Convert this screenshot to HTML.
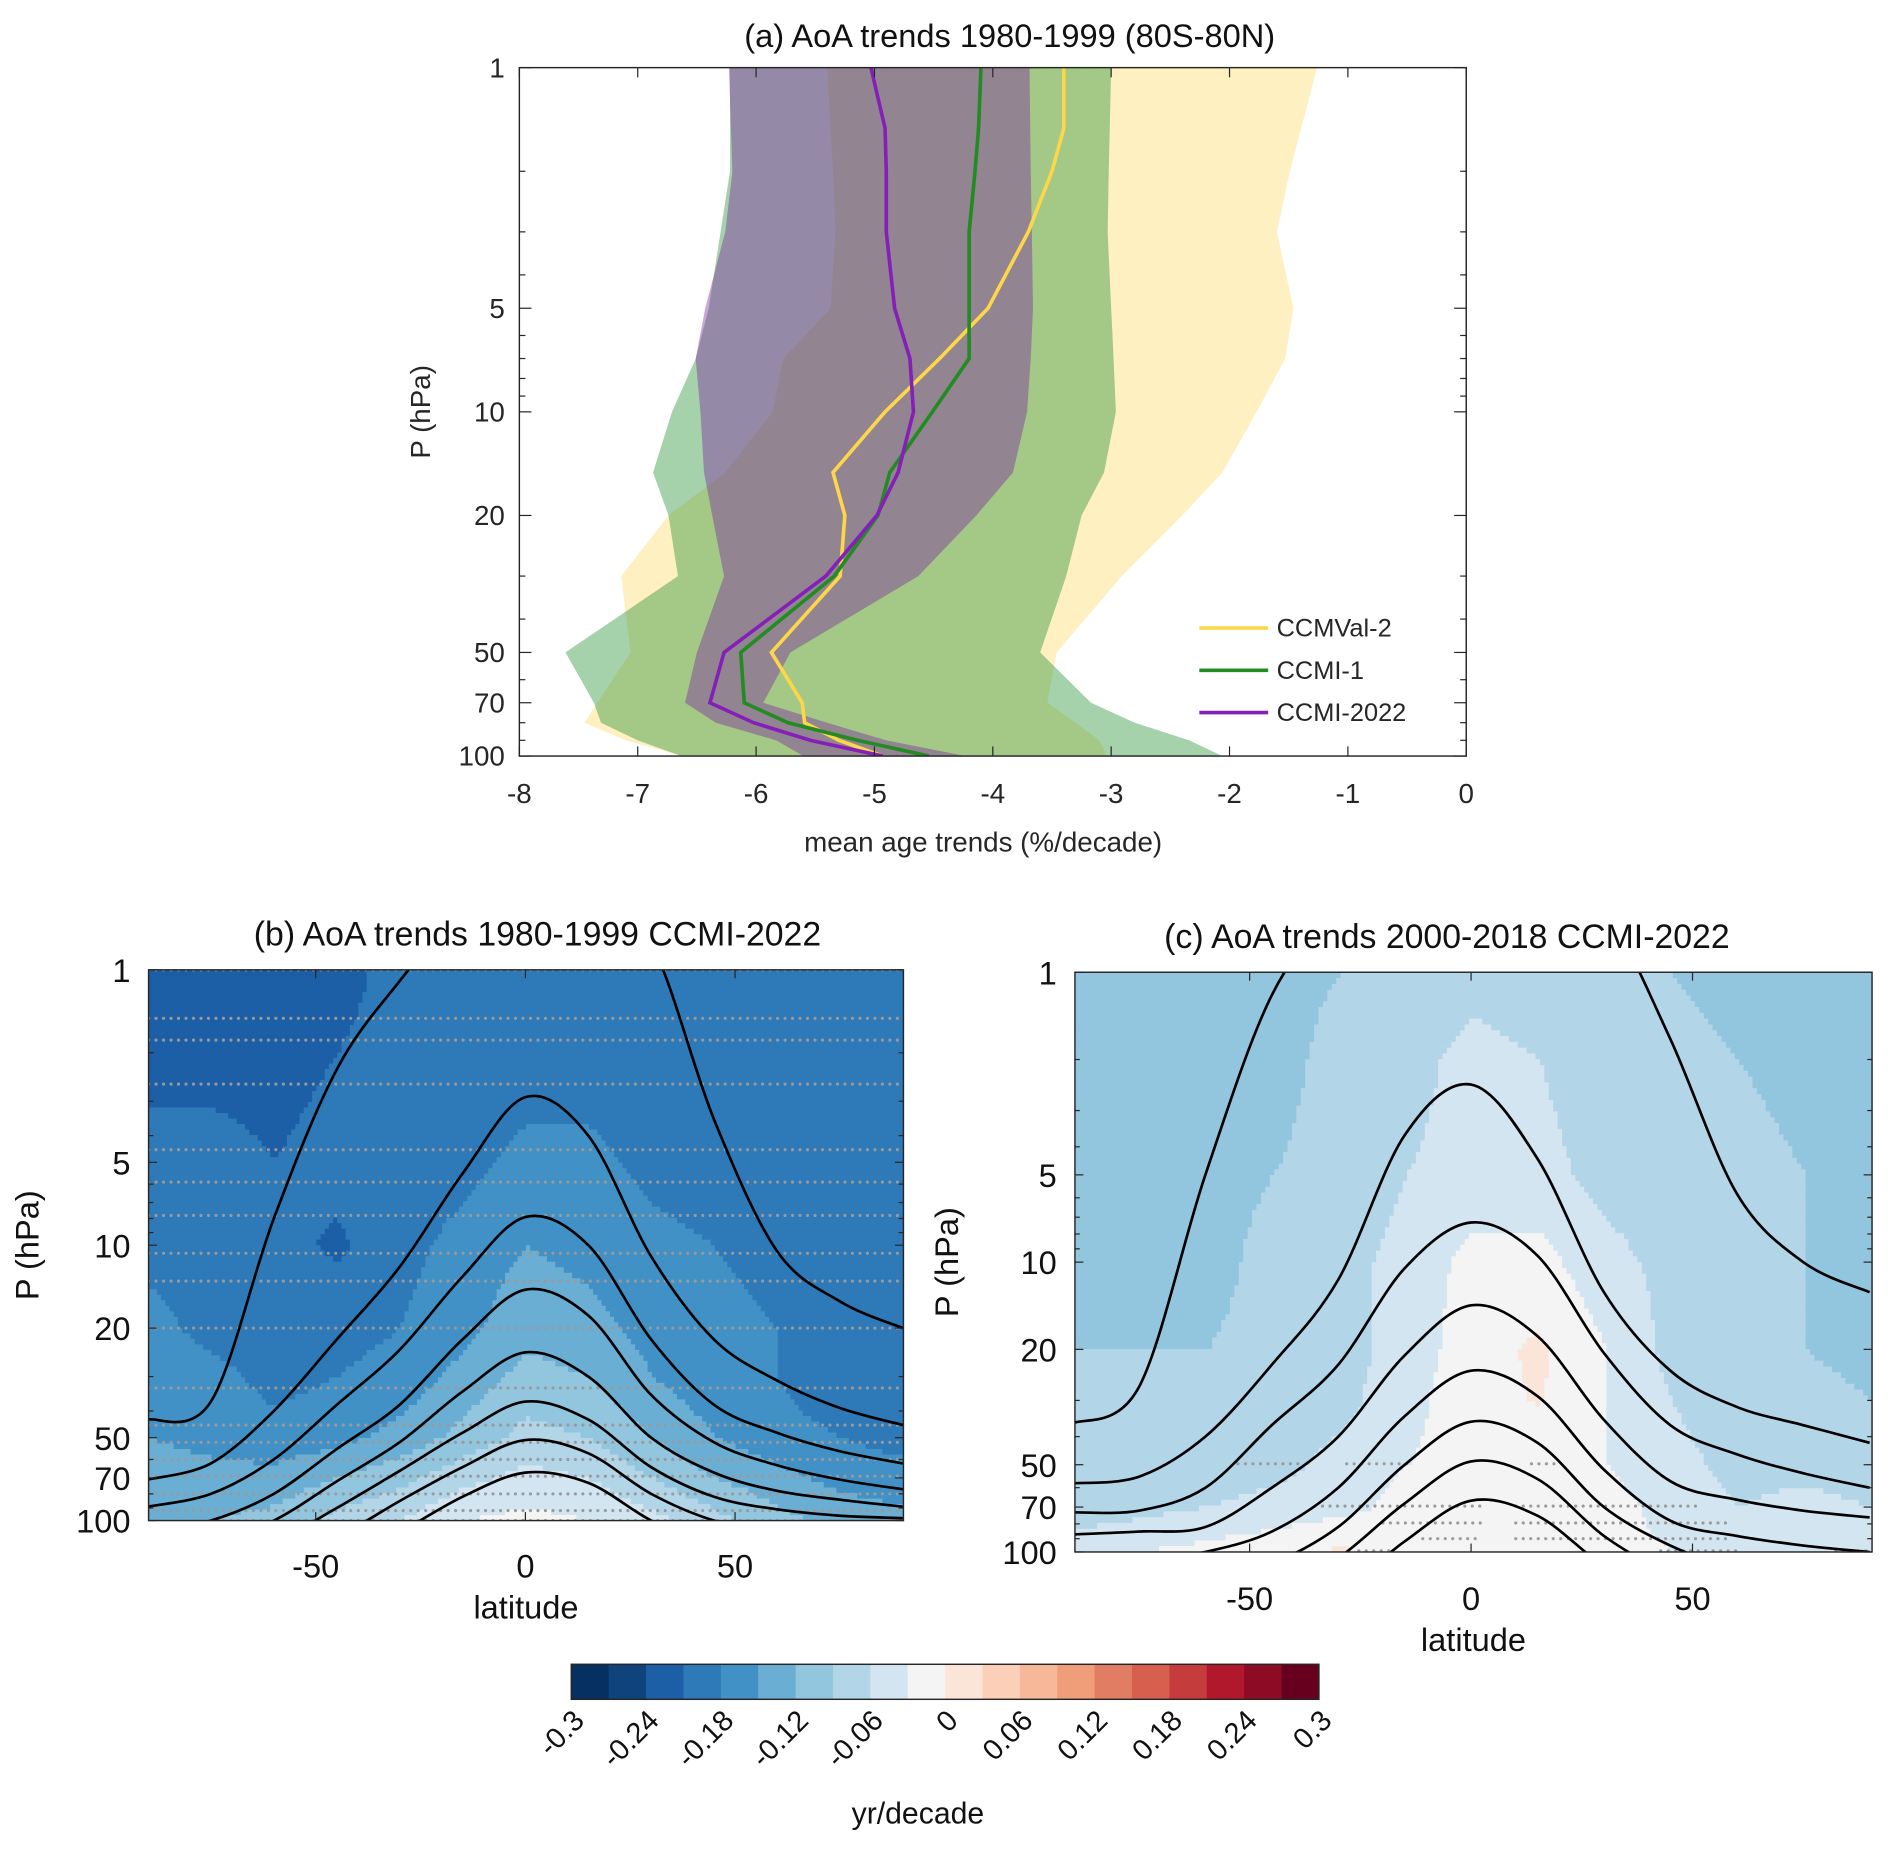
<!DOCTYPE html>
<html><head><meta charset="utf-8"><style>
html,body{margin:0;padding:0;background:#fff;}
svg{display:block;font-family:"Liberation Sans","DejaVu Sans",sans-serif;}
</style></head><body>
<svg id="fig" xmlns="http://www.w3.org/2000/svg" width="1892" height="1855" viewBox="0 0 1566.5 1535.9">
<rect x="0" y="0" width="1566.5" height="1535.9" fill="#fff"/>
<defs>
<clipPath id="clipA"><rect x="430" y="56" width="784" height="570"/></clipPath>
<clipPath id="clipB"><rect x="123" y="803" width="625" height="456"/></clipPath>
<clipPath id="clipC"><rect x="890" y="805" width="660" height="480"/></clipPath>
</defs>
<g id="panelA"></g>
<g id="panelB"></g>
<g id="panelC"></g>
<g id="cbar"></g>
</svg>
<script>
// ---------- Panel (a) data ----------
const LINE_P = [1,1.5,2,3,5,7,10,15,20,30,50,70,80,90,100];
const ccmval2 = [-3.4,-3.4,-3.5,-3.7,-4.04,-4.45,-4.91,-5.35,-5.25,-5.29,-5.87,-5.61,-5.59,-5.3,-4.93];
const ccmi1 = [-4.1,-4.12,-4.15,-4.2,-4.2,-4.2,-4.51,-4.87,-4.97,-5.34,-6.13,-6.1,-5.73,-5.14,-4.54];
const ccmi2022 = [-5.03,-4.91,-4.9,-4.9,-4.83,-4.7,-4.67,-4.8,-4.98,-5.41,-6.27,-6.39,-6.02,-5.54,-4.93];
const BAND_P = [1,2,3,5,7,10,15,20,30,50,70,80,90,100];
const yellowLo = [-5.4,-5.35,-5.33,-5.37,-5.77,-5.86,-6.26,-6.74,-7.14,-7.06,-7.34,-7.45,-7.1,-6.63];
const yellowHi = [-1.26,-1.49,-1.6,-1.46,-1.53,-1.77,-2.06,-2.4,-2.91,-3.46,-3.54,-3.3,-3.1,-3.03];
const greenLo = [-6.22,-6.22,-6.3,-6.4,-6.51,-6.71,-6.87,-6.74,-6.66,-7.61,-7.37,-7.31,-7.0,-6.63];
const greenHi = [-3.0,-3.02,-3.03,-3.0,-2.98,-2.96,-3.06,-3.25,-3.38,-3.6,-3.17,-2.8,-2.34,-2.06];
const purpleLo = [-6.23,-6.2,-6.26,-6.43,-6.51,-6.47,-6.44,-6.37,-6.27,-6.5,-6.6,-6.34,-5.83,-5.6];
const purpleHi = [-3.69,-3.68,-3.67,-3.66,-3.68,-3.71,-3.83,-4.14,-4.63,-5.71,-5.94,-5.4,-4.9,-4.23];
const xTicksA = [-8,-7,-6,-5,-4,-3,-2,-1,0];
const pTickLabels = [1,5,10,20,50,70,100];
const pMinor = [2,3,4,6,7,8,9,30,40,60,80,90];

// ---------- Panels (b)(c) data ----------
const LATS = [-90,-75,-60,-45,-30,-15,0,15,30,45,60,75,90];
const GRID_P = [1,2,5,10,20,30,50,70,100];
const fieldB = [
[-.22,-.22,-.22,-.22,-.20,-.20,-.20,-.20,-.20,-.20,-.20,-.20,-.20],
[-.22,-.22,-.22,-.21,-.20,-.20,-.20,-.20,-.20,-.20,-.20,-.20,-.20],
[-.20,-.20,-.21,-.20,-.20,-.19,-.17,-.17,-.19,-.20,-.20,-.20,-.20],
[-.19,-.19,-.20,-.215,-.19,-.17,-.15,-.16,-.17,-.18,-.19,-.20,-.20],
[-.17,-.19,-.20,-.19,-.18,-.16,-.13,-.14,-.16,-.17,-.18,-.19,-.20],
[-.16,-.17,-.19,-.18,-.17,-.14,-.11,-.12,-.15,-.17,-.18,-.20,-.20],
[-.15,-.16,-.17,-.16,-.14,-.11,-.08,-.09,-.12,-.15,-.17,-.18,-.19],
[-.13,-.14,-.14,-.12,-.10,-.07,-.05,-.06,-.09,-.12,-.14,-.16,-.17],
[-.12,-.12,-.11,-.08,-.06,-.03,-.02,-.03,-.05,-.08,-.11,-.13,-.14]];
const fieldC = [
[-.10,-.10,-.10,-.10,-.09,-.08,-.07,-.08,-.08,-.09,-.10,-.10,-.10],
[-.10,-.10,-.10,-.10,-.08,-.07,-.05,-.06,-.08,-.08,-.09,-.10,-.10],
[-.09,-.10,-.10,-.09,-.08,-.06,-.05,-.05,-.07,-.08,-.08,-.09,-.10],
[-.10,-.09,-.10,-.08,-.07,-.05,-.02,-.02,-.05,-.07,-.08,-.09,-.10],
[-.09,-.09,-.09,-.08,-.07,-.05,-.01,.005,-.03,-.07,-.08,-.09,-.10],
[-.09,-.09,-.09,-.08,-.07,-.04,-.01,.002,-.03,-.06,-.08,-.08,-.09],
[-.09,-.09,-.08,-.07,-.05,-.03,-.02,-.02,-.03,-.05,-.07,-.07,-.08],
[-.08,-.07,-.06,-.05,-.04,-.02,-.01,-.01,-.02,-.04,-.06,-.05,-.06],
[-.04,-.03,-.02,-.01,.005,-.01,-.01,-.01,-.02,-.03,-.04,-.04,-.05]];
const contoursB = [
[43,37,8,2.3,1.1,0.6,0.4,0.5,0.8,3.5,10.5,16,20],
[71,62,40,22,12,5.5,2.9,4,11,22,31,39,45],
[89,80,60,38,24,13,7.9,10,22,38,48,56,62],
[110,100,80,55,38,22,14.5,18,35,52,63,71,77],
[130,120,100,72,52,34,24.5,30,50,67,78,84,89],
[150,140,120,90,66,48,37,43,64,82,91,96,98],
[170,155,140,115,85,64,51,57,80,100,110,115,120],
[200,180,160,140,110,82,67,73,100,125,140,150,160]];
const contoursC = [
[36,27,5,1.2,0.6,0.4,0.3,0.4,0.6,1.7,5.8,10,12.7],
[58,55,40,22.6,11.5,3.65,2.44,4.4,12.7,23.7,31.6,36.5,42],
[73,72,60,36.5,22.6,10.5,7.3,9.5,20.6,36.5,46,53.5,60],
[87,85,82,60,40,21,14.1,18,35,57,66,72,76],
[110,108,100,85,60,34,23.7,29,52,78,88,95,100],
[150,140,130,110,82,50,35.5,42,70,95,115,130,140],
[190,170,160,140,105,68,48.7,56,88,120,150,170,190],
[250,220,200,180,140,92,66.5,75,112,150,180,200,220]];
const stippleRowsB = [1,1.5,1.8,2.6,4.5,5.9,7.8,10.7,13.5,20,33,45,52,60,69,80,92,100];
const cbarLevels = [-0.3,-0.27,-0.24,-0.21,-0.18,-0.15,-0.12,-0.09,-0.06,-0.03,0,0.03,0.06,0.09,0.12,0.15,0.18,0.21,0.24,0.27,0.3];
const cbarLabels = ["-0.3","-0.24","-0.18","-0.12","-0.06","0","0.06","0.12","0.18","0.24","0.3"];
const cbarColors = ["#053061","#0f437b","#1c5fa6","#2e79b8","#4191c6","#6aaed4","#92c5de","#b3d5e8","#d2e5f0","#f4f4f4","#fbe5d9","#fcd0b8","#f7b799","#f09e7a","#e17d63","#d6604d","#c43c3c","#b2182b","#8e0b26","#67001f"];

const NS="http://www.w3.org/2000/svg";
function mk(tag,attrs,parent){const e=document.createElementNS(NS,tag);for(const k in attrs)e.setAttribute(k,attrs[k]);parent.appendChild(e);return e;}
const L10=Math.log10;

const xA=v=>430+(v+8)*98, yA=p=>56+285*L10(p);
const xB=l=>435+l*3.472, yB=p=>803+228*L10(p);
const xC=l=>1218+l*3.667, yC=p=>805+240*L10(p);

// ---------- Panel A ----------
const A=document.getElementById('panelA');
const gA=mk('g',{'clip-path':'url(#clipA)'},A);
function band(lo,hi,color,op,name){
  let pts=[];
  for(let i=0;i<BAND_P.length;i++)pts.push(xA(lo[i]).toFixed(1)+','+yA(BAND_P[i]).toFixed(1));
  for(let i=BAND_P.length-1;i>=0;i--)pts.push(xA(hi[i]).toFixed(1)+','+yA(BAND_P[i]).toFixed(1));
  const e=mk('polygon',{points:pts.join(' '),fill:color,'fill-opacity':op},gA);
  
  
}
band(yellowLo,yellowHi,'#fcd34d',0.35,'ccmval2-range');
band(greenLo,greenHi,'#1e8c2e',0.4,'ccmi1-range');
band(purpleLo,purpleHi,'#7b1fa2',0.4,'ccmi2022-range');
function line(vals,color,name){
  const pts=vals.map((v,i)=>xA(v).toFixed(1)+','+yA(LINE_P[i]).toFixed(1)).join(' ');
  const e=mk('polyline',{points:pts,fill:'none',stroke:color,'stroke-width':3},gA);
  
  
}
line(ccmval2,'#fdd649','ccmval2-line');
line(ccmi1,'#228b22','ccmi1-line');
line(ccmi2022,'#8420b8','ccmi2022-line');
mk('rect',{x:430,y:56,width:784,height:570,fill:'none',stroke:'#262626','stroke-width':1.2},A);
xTicksA.forEach(v=>{
  mk('line',{x1:xA(v),x2:xA(v),y1:626,y2:618,stroke:'#262626'},A);
  mk('line',{x1:xA(v),x2:xA(v),y1:56,y2:64,stroke:'#262626'},A);
  const t=mk('text',{x:xA(v),y:665,'text-anchor':'middle','font-size':23,fill:'#262626'},A);t.textContent=v;
  
  
});
pTickLabels.forEach(p=>{
  mk('line',{x1:430,x2:440,y1:yA(p),y2:yA(p),stroke:'#262626'},A);
  mk('line',{x1:1214,x2:1204,y1:yA(p),y2:yA(p),stroke:'#262626'},A);
  const t=mk('text',{x:418,y:yA(p)+8,'text-anchor':'end','font-size':23,fill:'#262626'},A);t.textContent=p;
  
  
});
pMinor.forEach(p=>{
  mk('line',{x1:430,x2:435,y1:yA(p),y2:yA(p),stroke:'#262626'},A);
  mk('line',{x1:1214,x2:1209,y1:yA(p),y2:yA(p),stroke:'#262626'},A);
});
let t=mk('text',{x:836,y:39,'text-anchor':'middle','font-size':27,fill:'#111'},A);t.textContent='(a) AoA trends 1980-1999 (80S-80N)';


t=mk('text',{x:814,y:705,'text-anchor':'middle','font-size':23,fill:'#262626'},A);t.textContent='mean age trends (%/decade)';


t=mk('text',{x:356,y:341,'text-anchor':'middle','font-size':23,fill:'#262626',transform:'rotate(-90 356 341)'},A);t.textContent='P (hPa)';


const legend=mk('g',{},A);


[['CCMVal-2','#fdd649',520],['CCMI-1','#228b22',555],['CCMI-2022','#8420b8',590]].forEach(([n,c,y])=>{
  mk('line',{x1:993,x2:1050,y1:y,y2:y,stroke:c,'stroke-width':3},legend);
  const tt=mk('text',{x:1057,y:y+7,'font-size':21,fill:'#262626'},legend);tt.textContent=n;
  
  
});

// ---------- contour panels ----------
function colorFor(v){
  let i=Math.floor((v-cbarLevels[0])/0.03);
  i=Math.max(0,Math.min(cbarColors.length-1,i));
  return cbarColors[i];
}
function interp(field,lat,lp){
  let i=0;while(i<LATS.length-2&&lat>LATS[i+1])i++;
  const tx=Math.max(0,Math.min(1,(lat-LATS[i])/(LATS[i+1]-LATS[i])));
  const lps=GRID_P.map(L10);
  let j=0;while(j<lps.length-2&&lp>lps[j+1])j++;
  const ty=Math.max(0,Math.min(1,(lp-lps[j])/(lps[j+1]-lps[j])));
  const a=field[j][i]*(1-tx)+field[j][i+1]*tx;
  const b=field[j+1][i]*(1-tx)+field[j+1][i+1]*tx;
  return a*(1-ty)+b*ty;
}
function smoothPath(pts){
  let d='M'+pts[0][0].toFixed(1)+','+pts[0][1].toFixed(1);
  for(let i=0;i<pts.length-1;i++){
    const p0=pts[Math.max(0,i-1)],p1=pts[i],p2=pts[i+1],p3=pts[Math.min(pts.length-1,i+2)];
    const c1=[p1[0]+(p2[0]-p0[0])/6,p1[1]+(p2[1]-p0[1])/6];
    const c2=[p2[0]-(p3[0]-p1[0])/6,p2[1]-(p3[1]-p1[1])/6];
    d+=' C'+c1[0].toFixed(1)+','+c1[1].toFixed(1)+' '+c2[0].toFixed(1)+','+c2[1].toFixed(1)+' '+p2[0].toFixed(1)+','+p2[1].toFixed(1);
  }
  return d;
}
function drawPanel(G,clip,field,x0,x1,y0,y1){
  const g=mk('g',{'clip-path':'url(#'+clip+')'},G);
  const nx=180,ny=100,dx=(x1-x0)/nx,dy=(y1-y0)/ny;
  for(let r=0;r<ny;r++){
    const lp=(r+0.5)/ny*2;
    let runStart=0,runColor=null;
    for(let c=0;c<=nx;c++){
      let col=null;
      if(c<nx){const lat=-90+(c+0.5)/nx*180;col=colorFor(interp(field,lat,lp));}
      if(col!==runColor){
        if(runColor!==null){
          const e=mk('rect',{x:(x0+runStart*dx).toFixed(2),y:(y0+r*dy).toFixed(2),width:((c-runStart)*dx+0.6).toFixed(2),height:(dy+0.6).toFixed(2),fill:runColor},g);
          
          
        }
        runStart=c;runColor=col;
      }
    }
  }
  return g;
}
function axesDecor(G,xs,ys,x0,x1,y0,y1,title,titleX,titleY,ylabX,xtY,xlY,labX,prefix){
  mk('rect',{x:x0,y:y0,width:x1-x0,height:y1-y0,fill:'none',stroke:'#262626','stroke-width':1.2},G);
  [-50,0,50].forEach(l=>{
    mk('line',{x1:xs(l),x2:xs(l),y1:y1,y2:y1-7,stroke:'#262626'},G);
    mk('line',{x1:xs(l),x2:xs(l),y1:y0,y2:y0+7,stroke:'#262626'},G);
    const t=mk('text',{x:xs(l),y:xtY,'text-anchor':'middle','font-size':27,fill:'#111'},G);t.textContent=l;
    
    
  });
  pTickLabels.forEach(p=>{
    mk('line',{x1:x0,x2:x0+7,y1:ys(p),y2:ys(p),stroke:'#262626'},G);
    mk('line',{x1:x1,x2:x1-7,y1:ys(p),y2:ys(p),stroke:'#262626'},G);
    const t=mk('text',{x:labX,y:ys(p)+10,'text-anchor':'end','font-size':27,fill:'#111'},G);t.textContent=p;
    
    
  });
  pMinor.forEach(p=>{
    mk('line',{x1:x0,x2:x0+4,y1:ys(p),y2:ys(p),stroke:'#262626'},G);
    mk('line',{x1:x1,x2:x1-4,y1:ys(p),y2:ys(p),stroke:'#262626'},G);
  });
  let t=mk('text',{x:titleX,y:titleY,'text-anchor':'middle','font-size':28,fill:'#111'},G);t.textContent=title;
  
  
  t=mk('text',{x:(x0+x1)/2,y:xlY,'text-anchor':'middle','font-size':27,fill:'#111'},G);t.textContent='latitude';
  
  
  const ym=(y0+y1)/2;
  t=mk('text',{x:ylabX,y:ym,'text-anchor':'middle','font-size':27,fill:'#111',transform:'rotate(-90 '+ylabX+' '+ym+')'},G);t.textContent='P (hPa)';
  
  
}
function drawContours(g,contours,xs,ys){
  contours.forEach(c=>{
    const pts=c.map((p,i)=>[xs(LATS[i]),ys(p)]);
    const e=mk('path',{d:smoothPath(pts),fill:'none',stroke:'#000','stroke-width':2.2},g);
    
    
  });
}
// Panel B
const B=document.getElementById('panelB');
const gB=drawPanel(B,'clipB',fieldB,123,748,803,1259);
stippleRowsB.forEach(p=>{
  const e=mk('line',{x1:123,x2:748,y1:yB(p),y2:yB(p),stroke:'#9a9a9a','stroke-width':2.6,'stroke-dasharray':'0 6.2','stroke-linecap':'round'},gB);
  
  
});
drawContours(gB,contoursB,xB,yB);
axesDecor(B,xB,yB,123,748,803,1259,'(b) AoA trends 1980-1999 CCMI-2022',445,783,32,1306,1340,108,'panel-b');
// Panel C
const C=document.getElementById('panelC');
const gC=drawPanel(C,'clipC',fieldC,890,1550,805,1285);
[[1025,1075,1212],[1115,1165,1212],[1268,1290,1212],[1095,1230,1247],[1255,1410,1247],[1145,1230,1261],[1255,1430,1261],[1178,1225,1274],[1255,1430,1274],[1125,1150,1284],[1375,1440,1284],[1520,1550,1284]].forEach(s=>{
  const e=mk('line',{x1:s[0],x2:s[1],y1:s[2],y2:s[2],stroke:'#9a9a9a','stroke-width':2.6,'stroke-dasharray':'0 6.2','stroke-linecap':'round'},gC);
  
  
});
drawContours(gC,contoursC,xC,yC);
axesDecor(C,xC,yC,890,1550,805,1285,'(c) AoA trends 2000-2018 CCMI-2022',1198,785,793,1333,1367,875,'panel-c');

// ---------- Colorbar ----------
const CB=document.getElementById('cbar');
const cbx0=473,cbx1=1092,cby0=1378,cby1=1407,cw=(cbx1-cbx0)/cbarColors.length;
cbarColors.forEach((c,i)=>{
  const e=mk('rect',{x:(cbx0+i*cw).toFixed(2),y:cby0,width:(cw+0.4).toFixed(2),height:cby1-cby0,fill:c},CB);
  
  
});
mk('rect',{x:cbx0,y:cby0,width:cbx1-cbx0,height:cby1-cby0,fill:'none',stroke:'#262626','stroke-width':1.2},CB);
cbarLabels.forEach((s,i)=>{
  const x=cbx0+i*2*cw+12,y=1426;
  const e=mk('text',{x:x,y:y,'text-anchor':'end','font-size':24,fill:'#111',transform:'rotate(-45 '+x+' '+y+')'},CB);
  e.textContent=s;
  
  
});
t=mk('text',{x:760,y:1510,'text-anchor':'middle','font-size':25,fill:'#111'},CB);t.textContent='yr/decade';


</script>
</body></html>
